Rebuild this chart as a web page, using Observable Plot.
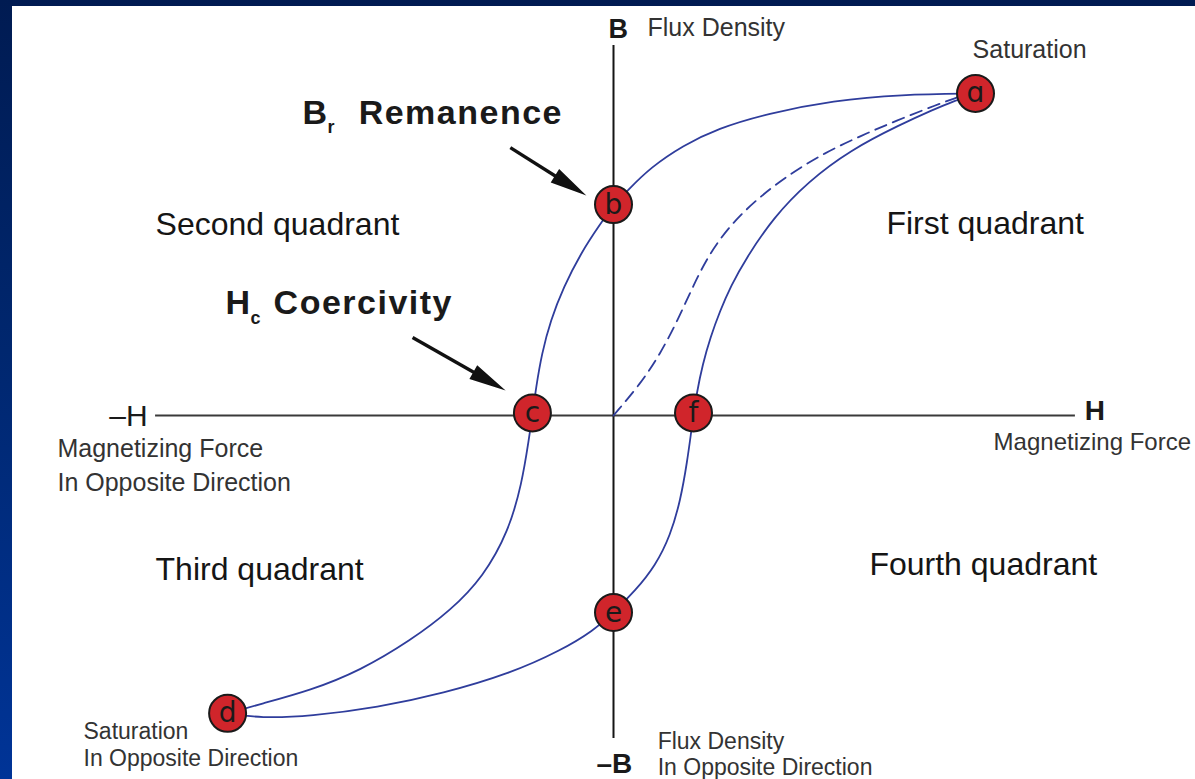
<!DOCTYPE html>
<html>
<head>
<meta charset="utf-8">
<script src="https://cdn.jsdelivr.net/npm/d3@7"></script>
<script src="https://cdn.jsdelivr.net/npm/@observablehq/plot@0.6"></script>
<style>
  html, body { margin: 0; padding: 0; width: 1195px; height: 779px; overflow: hidden; }
  body { background: linear-gradient(180deg, #001b52 0%, #00276f 45%, #003497 100%); }
  #panel { position: absolute; left: 12px; top: 6px; width: 1183px; height: 773px; background: #fff; overflow: hidden; }
  #panel svg { display: block; }
  g[font-weight="700"] text { letter-spacing: 1.5px; }
</style>
</head>
<body>
<div id="panel"></div>
<script>
// Hysteresis loop, normalised so that saturation point a = (H 100, B 100)
// Descending branch: a -> b (remanence) -> c (coercivity) -> d (reverse saturation)
const descendingBranch = [
  [100, 100], [79.3, 99.7], [60.8, 97.8], [42.5, 93.8], [28.7, 89.1], [19.3, 83.9],
  [10.2, 77.0], [3.9, 69.9], [0, 65.2], [-3.6, 59.6], [-9.1, 50.3], [-13.8, 39.8],
  [-17.4, 29.5], [-19.8, 19.3], [-21.4, 8.7], [-22.4, 0], [-23.4, -7.5], [-25.3, -21.1],
  [-29.0, -36.0], [-35.9, -50.0], [-45.0, -60.6], [-56.1, -69.9], [-69.9, -79.2],
  [-83.7, -85.4], [-97.5, -89.6], [-106.6, -92.5]
];
// Ascending branch: d -> e -> f -> a
const ascendingBranch = [
  [-106.6, -92.5], [-97.5, -94.0], [-83.7, -93.4], [-65.2, -90.7], [-47.0, -86.3],
  [-28.5, -80.1], [-14.6, -73.0], [-5.5, -66.8], [0, -61.2], [6.1, -54.3], [11.6, -46.6],
  [15.7, -37.3], [18.5, -26.4], [20.4, -14.0], [21.5, -4.7], [22.1, 0], [23.0, 7.0],
  [24.6, 15.8], [26.8, 24.4], [29.4, 32.4], [32.4, 40.2], [36.6, 48.8], [44.2, 61.5],
  [53.6, 72.5], [65.5, 82.5], [79.3, 90.4], [88.4, 95.0], [93.9, 97.6], [100, 100]
];
// Initial magnetisation curve (dashed): origin -> a
const initialCurve = [
  [0, 0], [7.5, 9.9], [13.0, 19.3], [17.7, 29.5], [22.1, 40.5], [26.6, 50.5],
  [32.7, 59.7], [40.2, 67.8], [49.0, 75.2], [58.2, 81.5], [68.2, 86.8], [78.0, 91.5],
  [89.5, 96.6], [95, 98.8]
];
// Marked points
const pointLabels = ["ɑ", "b", "c", "d", "e", "f"];
const pointH = [100, 0, -22.4, -106.6, 0, 22.1];
const pointB = [100, 65.5, 0.8, -92.5, -61.2, 0.8];
const points = pointLabels.map((label, i) => ({label, H: pointH[i], B: pointB[i]}));

// Axis extents
const hAxisExtent = [-126.5, 127.6];
const bAxisExtent = [-100.3, 114.9];

// Pointer arrows (Remanence -> b, Coercivity -> c)
const pointers = [
  {x1: -28.5, y1: 83.2, x2: -7.5, y2: 68.3},
  {x1: -55.5, y1: 24.2, x2: -29.8, y2: 7.8}
];

// Text annotations
const smallLabels = [
  {text: "Flux Density", H: 9.4, B: 118.0},
  {text: "Saturation", H: 99.2, B: 110.9},
  {text: "Magnetizing Force", H: -153.6, B: -13.0},
  {text: "In Opposite Direction", H: -153.6, B: -23.3}
];
const rightLabels = [
  {text: "Magnetizing Force", H: 105.0, B: -10.6}
];
const tightLabels = [
  {text: "Saturation", H: -146.4, B: -100.6},
  {text: "In Opposite Direction", H: -146.4, B: -108.7},
  {text: "Flux Density", H: 12.2, B: -103.7},
  {text: "In Opposite Direction", H: 12.2, B: -111.8}
];
const quadrantLabels = [
  {text: "Second quadrant", H: -126.5, B: 56.2},
  {text: "First quadrant", H: 75.4, B: 56.5},
  {text: "Third quadrant", H: -126.5, B: -51.2},
  {text: "Fourth quadrant", H: 70.7, B: -49.4}
];
const boldLabels = [
  {text: "B", H: -85.9, B: 90.4},
  {text: "Remanence", H: -70.4, B: 90.4},
  {text: "H", H: -107.2, B: 31.4},
  {text: "Coercivity", H: -93.9, B: 31.4}
];
const subscripts = [
  {text: "r", H: -79.0, B: 87.6},
  {text: "c", H: -100.3, B: 28.3}
];
const axisLetters = [
  {text: "B", H: 1.3, B: 117.3, anchor: "middle", size: 27, weight: "bold"},
  {text: "–B", H: 5.2, B: -110.9, anchor: "end", size: 28, weight: "bold"},
  {text: "–H", H: -128.7, B: -3.3, anchor: "end", size: 30, weight: "normal"},
  {text: "H", H: 130.2, B: -1.5, anchor: "start", size: 28, weight: "bold"}
];

const curveColor = "#2f3d9c";
const sans = "'Liberation Sans', Arial, Helvetica, sans-serif";
const narrow = "'Liberation Sans Narrow', 'Liberation Sans', Arial, sans-serif";

const txt = (data, opts) => Plot.text(data, {x: "H", y: "B", text: "text", lineAnchor: "bottom", textAnchor: "start", fontFamily: sans, ...opts});

const chart = Plot.plot({
  width: 1183,
  height: 773,
  marginLeft: 239,
  marginRight: 220,
  marginTop: 87,
  marginBottom: 42,
  x: {domain: [-100, 100], axis: null},
  y: {domain: [-100, 100], axis: null},
  style: {background: "white", fontFamily: sans},
  marks: [
    Plot.ruleY([0], {x1: hAxisExtent[0], x2: hAxisExtent[1], stroke: "#3a3a3a", strokeWidth: 2.2}),
    Plot.ruleX([0], {y1: bAxisExtent[0], y2: bAxisExtent[1], stroke: "#151515", strokeWidth: 2}),
    Plot.line(initialCurve, {x: d => d[0], y: d => d[1], stroke: curveColor, strokeWidth: 1.8, strokeDasharray: "12,7", curve: "basis"}),
    Plot.line(descendingBranch, {x: d => d[0], y: d => d[1], stroke: curveColor, strokeWidth: 1.8, curve: "basis"}),
    Plot.line(ascendingBranch, {x: d => d[0], y: d => d[1], stroke: curveColor, strokeWidth: 1.8, curve: "basis"}),
    // arrow shafts
    Plot.arrow(pointers, {x1: "x1", y1: "y1", x2: "x2", y2: "y2", stroke: "#111", strokeWidth: 3.4, headLength: 0, insetEnd: 18, strokeLinecap: "butt"}),
    // arrow heads (filled spikes)
    Plot.arrow(pointers, {
      x1: d => d.x2 + 1.6 * (d.x1 - d.x2), y1: d => d.y2 + 1.6 * (d.y1 - d.y2),
      x2: "x2", y2: "y2", stroke: "none", fill: "#111", strokeWidth: 3, headLength: 19, headAngle: 24
    }),
    Plot.dot(points, {x: "H", y: "B", r: 18.5, fill: "#d0252b", stroke: "#1a1a1a", strokeWidth: 2}),
    Plot.text(points, {x: "H", y: "B", text: "label", fontSize: 28, fontFamily: "'DejaVu Sans', sans-serif", fill: "#1a1a1a", lineAnchor: "middle"}),
    txt(smallLabels, {fontSize: 25, fill: "#333"}),
    txt(rightLabels, {fontSize: 24, fill: "#333"}),
    txt(tightLabels, {fontSize: 23, fill: "#333"}),
    txt(quadrantLabels, {fontSize: 32, fill: "#151515"}),
    txt(boldLabels, {fontSize: 34, fontWeight: 700, fill: "#1a1a1a"}),
    txt(subscripts, {fontSize: 18, fontWeight: "bold", fill: "#1a1a1a"}),
    ...axisLetters.map(a => txt([a], {textAnchor: a.anchor, fontSize: a.size, fontWeight: a.weight, fontFamily: a.weight === "bold" ? narrow : sans, fill: "#1a1a1a"}))
  ]
});
document.getElementById("panel").appendChild(chart);
</script>
</body>
</html>
